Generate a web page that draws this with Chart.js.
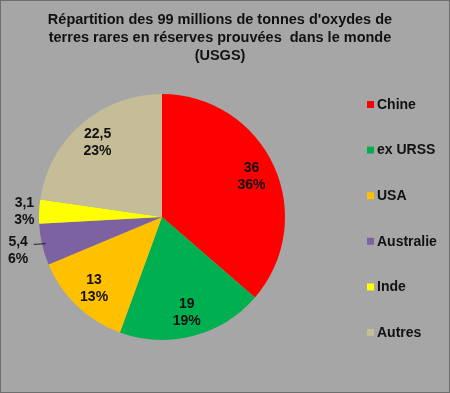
<!DOCTYPE html>
<html>
<head>
<meta charset="utf-8">
<script src="https://cdn.jsdelivr.net/npm/chart.js@4/dist/chart.umd.min.js"></script>
<style>
  html, body { margin: 0; padding: 0; background: #a6a6a6; }
  #wrap { width: 450px; height: 393px; box-sizing: border-box; border: 1px solid #6e6e6e; }
</style>
</head>
<body>
<div id="wrap"><canvas id="pie" width="448" height="391"></canvas></div>
<script>
const titleLines = ["Répartition des 99 millions de tonnes d'oxydes de",
  "terres rares en réserves prouvées  dans le monde", "(USGS)"];
const countries = ["Chine", "ex URSS", "USA", "Australie", "Inde", "Autres"];
const valueLabels = ["36", "19", "13", "5,4", "3,1", "22,5"];
const tonnes = [36, 19, 13, 5.4, 3.1, 22.5];
const percents = ["36%", "19%", "13%", "6%", "3%", "23%"];
const colors = ["#ff0000", "#00b050", "#ffc000", "#7c62a0", "#ffff00", "#c4bd97"];

const FONT = "'Liberation Sans', Arial, sans-serif";

// title, slice labels and legend drawn by hand
const excelLook = {
  id: 'excelLook',
  afterDraw(chart) {
    const ctx = chart.ctx;
    ctx.save();
    ctx.fillStyle = '#111';
    ctx.textAlign = 'center';
    ctx.textBaseline = 'middle';
    ctx.font = 'bold 14.5px ' + FONT;
    titleLines.forEach((t, i) => ctx.fillText(t, 219, 19 + i * 18));

    const arcs = chart.getDatasetMeta(0).data;
    ctx.font = 'bold 14px ' + FONT;
    arcs.forEach((arc, i) => {
      const mid = (arc.startAngle + arc.endAngle) / 2;
      const r = arc.outerRadius;
      const share = tonnes[i] / tonnes.reduce((a, b) => a + b, 0);
      let k = 0.8;
      if (share < 0.04) k = 1.12;
      else if (share < 0.07) k = 1.2;
      const cx = arc.x + Math.cos(mid) * r * k;
      const cy = arc.y + Math.sin(mid) * r * k;
      if (k > 1.15) {
        ctx.strokeStyle = '#222';
        ctx.lineWidth = 1;
        ctx.beginPath();
        ctx.moveTo(arc.x + Math.cos(mid) * r * 0.97, arc.y + Math.sin(mid) * r * 0.97);
        ctx.lineTo(arc.x + Math.cos(mid) * r * 1.07, arc.y + Math.sin(mid) * r * 1.07 - 2);
        ctx.stroke();
      }
      ctx.fillText(valueLabels[i], cx, cy - 8);
      ctx.fillText(percents[i], cx, cy + 9);
    });

    ctx.textAlign = 'left';
    ctx.font = 'bold 14px ' + FONT;
    countries.forEach((c, i) => {
      const y = 103 + i * 45.6;
      ctx.fillStyle = colors[i];
      ctx.fillRect(366, y - 3, 7, 7);
      ctx.fillStyle = '#111';
      ctx.fillText(c, 376, y + 1);
    });
    ctx.restore();
  }
};

new Chart(document.getElementById('pie'), {
  type: 'pie',
  data: {
    labels: countries,
    datasets: [{
      data: tonnes,
      backgroundColor: colors,
      borderWidth: 0
    }]
  },
  options: {
    responsive: false,
    animation: false,
    layout: { padding: { left: 38, right: 164, top: 93, bottom: 52 } },
    plugins: {
      legend: { display: false },
      tooltip: { enabled: false },
      title: { display: false }
    }
  },
  plugins: [excelLook]
});
</script>
</body>
</html>
